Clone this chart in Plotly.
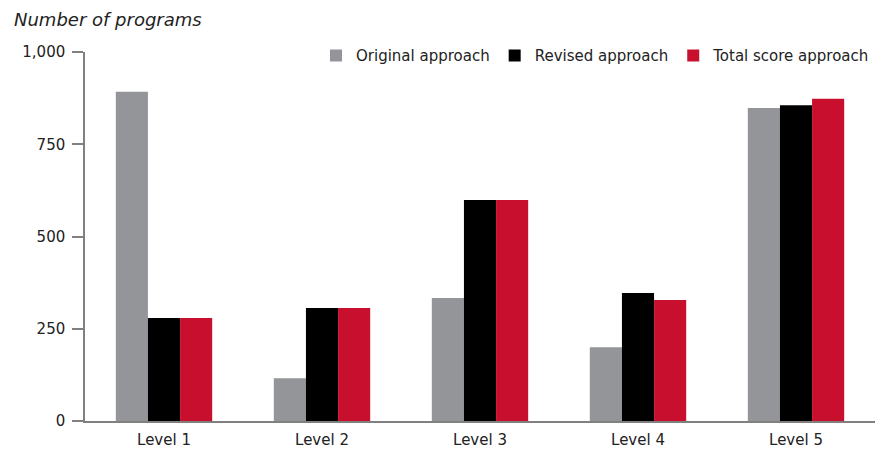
import plotly.graph_objects as go

categories = ["Level 1", "Level 2", "Level 3", "Level 4", "Level 5"]
original = [892, 116, 333, 200, 848]
revised = [279, 306, 599, 347, 856]
total = [279, 306, 599, 328, 873]
series_names = ["Original approach", "Revised approach", "Total score approach"]
colors = ["#939598", "#000000", "#C8102E"]
yticks = [0, 250, 500, 750, 1000]

fig = go.Figure()
for name, vals, c in zip(series_names, [original, revised, total], colors):
    fig.add_trace(go.Bar(x=categories, y=vals, name=name, marker=dict(color=c, line=dict(width=0))))

font = "DejaVu Sans, sans-serif"
fig.update_layout(
    width=875, height=451,
    margin=dict(l=85, r=0, t=52, b=30),
    paper_bgcolor="white", plot_bgcolor="white",
    barmode="group", bargap=0.39, bargroupgap=0,
    font=dict(family=font, size=15, color="#222"),
    showlegend=True,
    legend=dict(orientation="h", x=1, xanchor="right", y=0.99, yanchor="middle",
                font=dict(size=15, color="#222"), itemwidth=30, traceorder="normal",
                bgcolor="rgba(0,0,0,0)"),
    xaxis=dict(showline=True, linecolor="#808080", linewidth=1.5, ticks="", showgrid=False,
               tickfont=dict(size=15), ticklabelstandoff=4),
    yaxis=dict(range=[0, 1000], tickvals=yticks, tickformat=",", showgrid=False, zeroline=False,
               showline=True, linecolor="#808080", linewidth=1.5, ticks="outside", ticklen=11,
               tickcolor="#808080", tickwidth=1.5, tickfont=dict(size=15), ticklabelstandoff=4),
    annotations=[dict(text="<i>Number of programs</i>", xref="paper", yref="paper", x=-73/790, y=1,
                      xanchor="left", yanchor="bottom", yshift=20, showarrow=False,
                      font=dict(size=18, color="#222"))],
)
fig.write_html("out.html")
